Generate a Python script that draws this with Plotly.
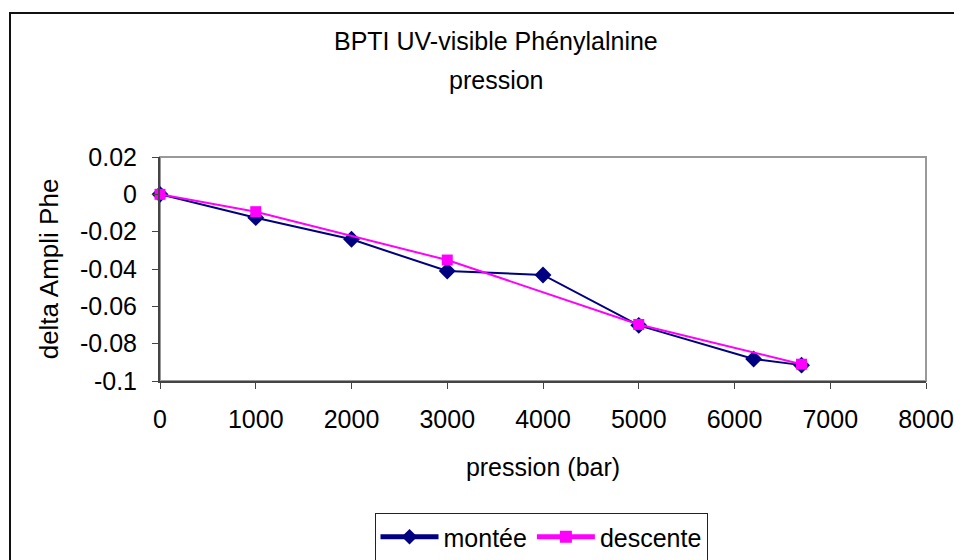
import plotly.graph_objects as go

# ---- data ----
montee_x = [0, 1000, 2000, 3000, 4000, 5000, 6200, 6700]
montee_y = [0.0, -0.0125, -0.0241, -0.0411, -0.0432, -0.0702, -0.0882, -0.0915]
descente_x = [0, 1000, 3000, 5000, 6700]
descente_y = [0.0, -0.0093, -0.0352, -0.0697, -0.0910]

x_ticks = [0, 1000, 2000, 3000, 4000, 5000, 6000, 7000, 8000]
y_ticks = [0.02, 0, -0.02, -0.04, -0.06, -0.08, -0.1]
y_ticktext = ["0.02", "0", "-0.02", "-0.04", "-0.06", "-0.08", "-0.1"]

title_line1 = "BPTI UV-visible Phénylalnine"
title_line2 = "pression"

# ---- layout geometry (page pixels; page body has an 8px margin) ----
OFF = 8
W, H = 962 - OFF, 560 - OFF
PL, PR, PT, PB = 160 - OFF, 926 - OFF, 157 - OFF, 381 - OFF  # plot area
pw, ph = PR - PL, PB - PT

def px_x(px):
    return (px - OFF - PL) / pw

def px_y(py):
    return (PB - (py - OFF)) / ph

FONT = "Liberation Sans, Arial, sans-serif"
FS = 25

fig = go.Figure()
fig.add_trace(go.Scatter(
    x=montee_x, y=montee_y, name="montée", mode="lines+markers",
    line=dict(color="#000080", width=2),
    marker=dict(symbol="diamond", size=13, color="#000080"),
    cliponaxis=False,
))
fig.add_trace(go.Scatter(
    x=descente_x, y=descente_y, name="descente", mode="lines+markers",
    line=dict(color="#FF00FF", width=2),
    marker=dict(symbol="square", size=11, color="#FF00FF"),
    cliponaxis=False,
))

shapes = [
    # outer chart border (clipped by the page at right and bottom)
    dict(type="rect", xref="paper", yref="paper",
         x0=px_x(10), x1=px_x(975), y0=px_y(575), y1=px_y(13),
         line=dict(color="#111111", width=2), layer="below"),
    # plot area frame (grey)
    dict(type="rect", xref="paper", yref="paper",
         x0=0, x1=1, y0=0, y1=1,
         line=dict(color="#999999", width=2), layer="below"),
]

annotations = [
    dict(text=title_line1, xref="paper", yref="paper", x=px_x(496), y=px_y(41),
         showarrow=False, xanchor="center", yanchor="middle",
         font=dict(family=FONT, size=FS, color="black")),
    dict(text=title_line2, xref="paper", yref="paper", x=px_x(496), y=px_y(80),
         showarrow=False, xanchor="center", yanchor="middle",
         font=dict(family=FONT, size=FS, color="black")),
]

fig.update_layout(
    width=W, height=H,
    margin=dict(l=PL, r=W - PR, t=PT, b=H - PB, autoexpand=False),
    paper_bgcolor="white", plot_bgcolor="white",
    font=dict(family=FONT, size=FS, color="black"),
    shapes=shapes,
    annotations=annotations,
    showlegend=True,
    legend=dict(
        orientation="h", x=px_x(541), y=px_y(513),
        xanchor="center", yanchor="top",
        bordercolor="#222222", borderwidth=1, bgcolor="white",
        font=dict(family=FONT, size=FS, color="black"),
        itemsizing="constant", itemwidth=58, tracegroupgap=0,
    ),
    xaxis=dict(
        range=[0, 8000], tickvals=x_ticks, showgrid=False, zeroline=False,
        automargin=False,
        showline=True, linecolor="#444444", linewidth=2,
        ticks="outside", ticklen=6, tickcolor="#444444", tickwidth=1,
        ticklabelstandoff=9,
        tickfont=dict(family=FONT, size=FS, color="black"),
        title=dict(text="pression (bar)", standoff=26,
                   font=dict(family=FONT, size=FS, color="black")),
    ),
    yaxis=dict(
        range=[-0.1, 0.02], tickvals=y_ticks, ticktext=y_ticktext,
        showgrid=False, zeroline=False,
        automargin=False,
        showline=True, linecolor="#444444", linewidth=2,
        ticks="outside", ticklen=6, tickcolor="#444444", tickwidth=1,
        ticklabelstandoff=10,
        tickfont=dict(family=FONT, size=FS, color="black"),
        title=dict(text="delta Ampli Phe", standoff=14,
                   font=dict(family=FONT, size=26, color="black")),
    ),
)

fig.write_html("out.html")
